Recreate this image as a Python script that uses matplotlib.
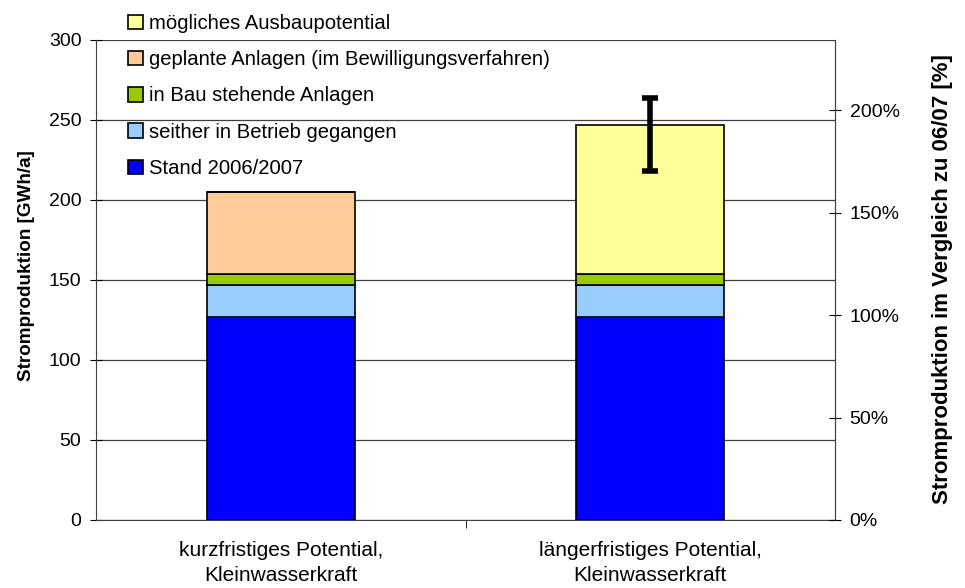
import numpy as np
import matplotlib
matplotlib.use("Agg")
import matplotlib.pyplot as plt
from matplotlib.ticker import MultipleLocator, FuncFormatter

plt.rcParams['font.family'] = ['Liberation Sans', 'DejaVu Sans']

# data (GWh/a)
categories = ['kurzfristiges Potential,\nKleinwasserkraft',
              'längerfristiges Potential,\nKleinwasserkraft']
series_names = ['Stand 2006/2007', 'seither in Betrieb gegangen',
                'in Bau stehende Anlagen',
                'geplante Anlagen (im Bewilligungsverfahren)',
                'mögliches Ausbaupotential']
stand = [127, 127]
seither = [20, 20]
in_bau = [7, 7]
geplant = [51, 0]
moeglich = [0, 93]
err_low = 218    # error bar range on second bar
err_high = 264
ref_value = 128  # value equal to 100 % on the right axis

colors = ['#0000FF', '#99CCFF', '#99CC00', '#FFCC99', '#FFFF99']

fig = plt.figure(figsize=(9.65, 5.88), dpi=100)
ax = fig.add_axes([96/965, 1-520/588, (835-96)/965, 480/588])

x = np.arange(len(categories))
bottom = np.zeros(len(categories))
handles = []
for vals, name, c in zip([stand, seither, in_bau, geplant, moeglich], series_names, colors):
    vals = np.array(vals, dtype=float)
    b = ax.bar(x, vals, 0.4, bottom=bottom, color=c, edgecolor='black',
               linewidth=1.2, label=name, zorder=3)
    handles.append(b)
    bottom += vals

top2 = bottom[1]
ax.errorbar(x[1], top2, yerr=[[top2 - err_low], [err_high - top2]], fmt='none',
            ecolor='black', elinewidth=4, capsize=5.5, capthick=4, zorder=4)

ax.set_xlim(-0.5, 1.5)
ax.set_ylim(0, 300)
ax.yaxis.set_major_locator(MultipleLocator(50))
ax.grid(axis='y', color='#404040', linewidth=0.9, zorder=0)
ax.set_axisbelow(True)
ax.set_xticks(x)
ax.set_xticklabels(categories, fontsize=15, linespacing=1.4)
ax.set_xticks([0.5], minor=True)
ax.tick_params(axis='x', which='major', length=0, pad=15)
ax.tick_params(axis='x', which='minor', length=6, direction='out')
ax.tick_params(axis='y', direction='inout', length=9, labelsize=14, pad=6)
ax.set_ylabel('Stromproduktion [GWh/a]', fontsize=13.6, fontweight='bold')
ax.yaxis.set_label_coords(-0.082, 0.529)
for s in ['left', 'bottom', 'right']:
    ax.spines[s].set_color('#404040')
ax.spines['top'].set_visible(False)

ax2 = ax.twinx()
ax2.set_ylim(0, 300 / ref_value * 100)
ax2.yaxis.set_major_locator(MultipleLocator(50))
ax2.yaxis.set_major_formatter(FuncFormatter(lambda v, p: '%d%%' % v))
ax2.tick_params(axis='y', direction='inout', length=9, labelsize=14, pad=6)
ax2.set_ylabel('Stromproduktion im Vergleich zu 06/07 [%]', fontsize=16,
               fontweight='bold', va='center')
ax2.yaxis.set_label_coords(1.145, 0.502)
for s in ['top', 'left', 'bottom']:
    ax2.spines[s].set_visible(False)
ax2.spines['right'].set_color('#404040')

fig.legend(handles[::-1], series_names[::-1], loc='upper left',
           bbox_to_anchor=(128/965, 1-14/588), frameon=False, fontsize=14.6,
           handlelength=0.72, handleheight=0.72, handletextpad=0.3,
           labelspacing=0.85, borderpad=0, borderaxespad=0)

fig.savefig('out.png', dpi=100)
